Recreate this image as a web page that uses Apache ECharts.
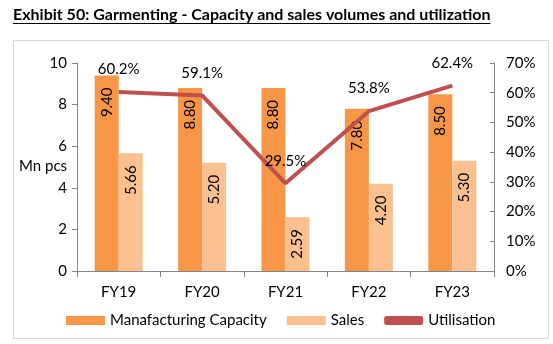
<!DOCTYPE html>
<html><head><meta charset="utf-8">
<script src="https://cdn.jsdelivr.net/npm/echarts@6/dist/echarts.min.js"></script>
<style>html,body{margin:0;padding:0;background:#fff}#c{width:553px;height:344px}</style>
</head><body><div id="c"></div>
<script>
var categories = ['FY19', 'FY20', 'FY21', 'FY22', 'FY23'];
var capacity = [9.40, 8.80, 8.80, 7.80, 8.50];
var sales = [5.66, 5.20, 2.59, 4.20, 5.30];
var utilisation = [60.2, 59.1, 29.5, 53.8, 62.4];
var titleText = 'Exhibit 50: Garmenting - Capacity and sales volumes and utilization';
var FONT = 'Lato, "Open Sans", sans-serif';
var FS = 15;

var cv = document.createElement('canvas').getContext('2d');
cv.font = 'bold 16px ' + FONT;
var tw = cv.measureText(titleText).width;

var chart = echarts.init(document.getElementById('c'));
var barLabel = {
  show: true, position: 'insideTop', rotate: 90, align: 'right', verticalAlign: 'middle',
  distance: 12, color: '#000', fontSize: FS, fontFamily: FONT,
  formatter: function (p) { return p.value.toFixed(2); }
};
chart.setOption({
  animation: false,
  textStyle: { fontFamily: FONT },
  graphic: [
    { type: 'rect', shape: { x: 13.5, y: 40.5, width: 535, height: 298 }, style: { fill: 'none', stroke: '#D9D9D9', lineWidth: 1 }, z: -1 },
    { type: 'text', left: 13, top: 7, style: { text: titleText, font: 'bold 16px ' + FONT, fill: '#000' } },
    { type: 'line', shape: { x1: 13, y1: 23.5, x2: 13 + tw, y2: 23.5 }, style: { stroke: '#000', lineWidth: 1 } },
    { type: 'text', left: 19, top: 159, style: { text: 'Mn pcs', font: FS + 'px ' + FONT, fill: '#000' } }
  ],
  grid: { left: 77, right: 59, top: 63, bottom: 73 },
  legend: {
    bottom: 11, left: 61, itemWidth: 39, itemHeight: 9, itemGap: 20,
    textStyle: { fontSize: FS, color: '#000', fontFamily: FONT },
    data: [
      { name: 'Manafacturing Capacity', icon: 'rect' },
      { name: 'Sales', icon: 'rect' },
      { name: 'Utilisation', icon: 'roundRect', itemStyle: { color: '#C0504D' } }
    ]
  },
  xAxis: {
    type: 'category', data: categories,
    axisLine: { lineStyle: { color: '#868686' } },
    axisTick: { show: true, alignWithLabel: false, length: 6, lineStyle: { color: '#868686' } },
    axisLabel: { color: '#000', fontSize: FS, margin: 14 }
  },
  yAxis: [
    {
      type: 'value', min: 0, max: 10, interval: 2,
      axisLine: { show: true, lineStyle: { color: '#868686' } },
      axisTick: { show: true, length: 5, lineStyle: { color: '#868686' } },
      splitLine: { show: false },
      axisLabel: { color: '#000', fontSize: FS, margin: 10 }
    },
    {
      type: 'value', min: 0, max: 70, interval: 10,
      axisLine: { show: true, lineStyle: { color: '#868686' } },
      axisTick: { show: true, inside: true, length: 4, lineStyle: { color: '#868686' } },
      splitLine: { show: false },
      axisLabel: { color: '#000', fontSize: FS, margin: 12, formatter: '{value}%' }
    }
  ],
  series: [
    { name: 'Manafacturing Capacity', type: 'bar', data: capacity, barWidth: 24, barGap: '0%',
      itemStyle: { color: '#F79646' }, label: barLabel },
    { name: 'Sales', type: 'bar', data: sales, barWidth: 24, barGap: '0%',
      itemStyle: { color: '#FAC090' }, label: barLabel },
    { name: 'Utilisation', type: 'line', yAxisIndex: 1, data: utilisation,
      showSymbol: true, symbol: 'circle', symbolSize: 0,
      lineStyle: { color: '#C0504D', width: 4 }, itemStyle: { color: '#C0504D' },
      label: { show: true, position: 'top', distance: 15, color: '#000', fontSize: FS, fontFamily: FONT,
        formatter: function (p) { return p.value.toFixed(1) + '%'; } }, z: 5 }
  ]
});
</script></body></html>
